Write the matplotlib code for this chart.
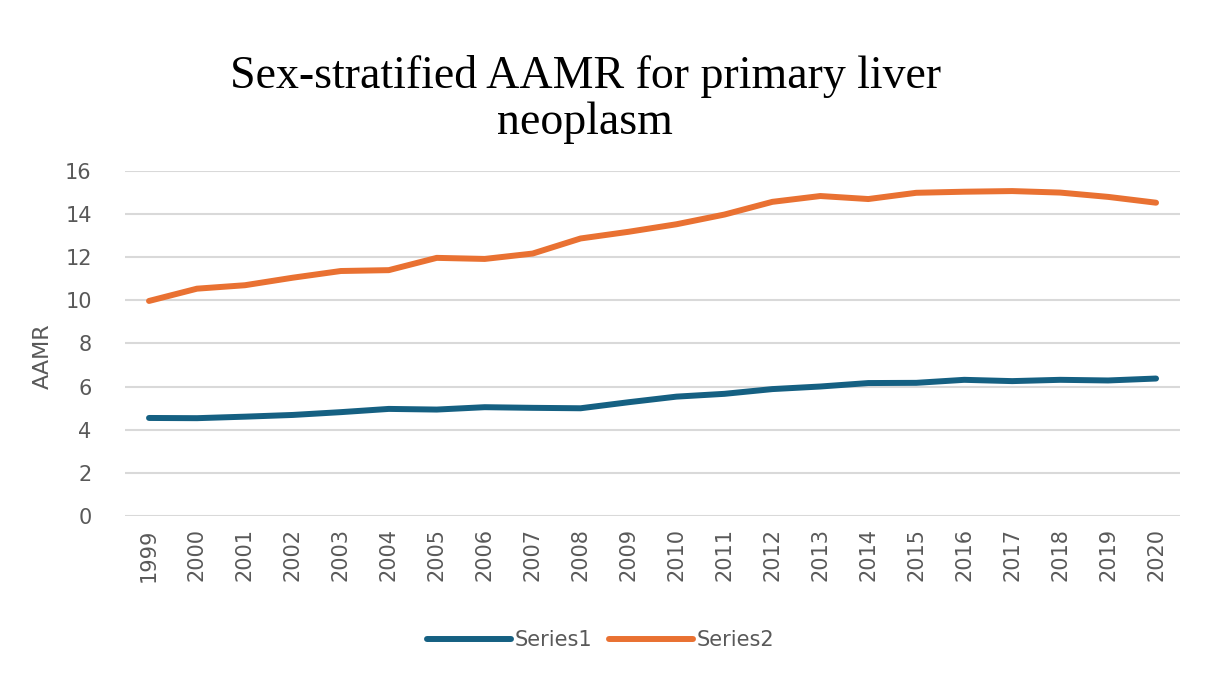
import numpy as np
import matplotlib.pyplot as plt

years = [str(y) for y in range(1999, 2021)]
series1 = [4.54, 4.53, 4.60, 4.68, 4.81, 4.96, 4.93, 5.04, 5.01, 4.99, 5.27,
           5.53, 5.66, 5.88, 6.00, 6.16, 6.17, 6.31, 6.25, 6.31, 6.28, 6.37]
series2 = [9.97, 10.54, 10.70, 11.05, 11.36, 11.40, 11.97, 11.92, 12.17, 12.87, 13.18,
           13.53, 13.98, 14.57, 14.84, 14.70, 14.99, 15.04, 15.07, 15.00, 14.80, 14.53]

grey = '#595959'

fig = plt.figure(figsize=(12.14, 6.76), dpi=100)
ax = fig.add_axes([0.103, 0.237, 0.869, 0.51])

x = np.arange(len(years))
ax.plot(x, series1, color='#156082', lw=4.3, label='Series1', solid_capstyle='round')
ax.plot(x, series2, color='#E97132', lw=4.3, label='Series2', solid_capstyle='round')

ax.set_xlim(-0.5, len(years) - 0.5)
ax.set_ylim(0, 16)
ax.set_yticks(range(0, 17, 2))
ax.set_xticks(x)
ax.set_xticklabels(years, rotation=90, fontsize=15, color=grey)
ax.tick_params(axis='y', labelsize=15, labelcolor=grey, length=0, pad=24)
ax.tick_params(axis='x', length=0, pad=9)
ax.grid(axis='y', color='#d9d9d9', lw=1.5)
ax.set_axisbelow(True)
for s in ax.spines.values():
    s.set_visible(False)

fig.text(0.035, 0.473, 'AAMR', rotation=90, ha='center', va='center',
         fontsize=16, color=grey)

fig.text(0.482, 0.787, 'Sex-stratified AAMR for primary liver\nneoplasm',
         ha='center', va='bottom', fontsize=33, family='Liberation Serif',
         linespacing=1.12)

leg = fig.legend(loc='center', bbox_to_anchor=(0.495, 0.053), ncol=2, frameon=False,
                 fontsize=15, handlelength=4.0, columnspacing=0.8, handletextpad=0.2)
for t in leg.get_texts():
    t.set_color(grey)

fig.savefig('out.png', dpi=100)
